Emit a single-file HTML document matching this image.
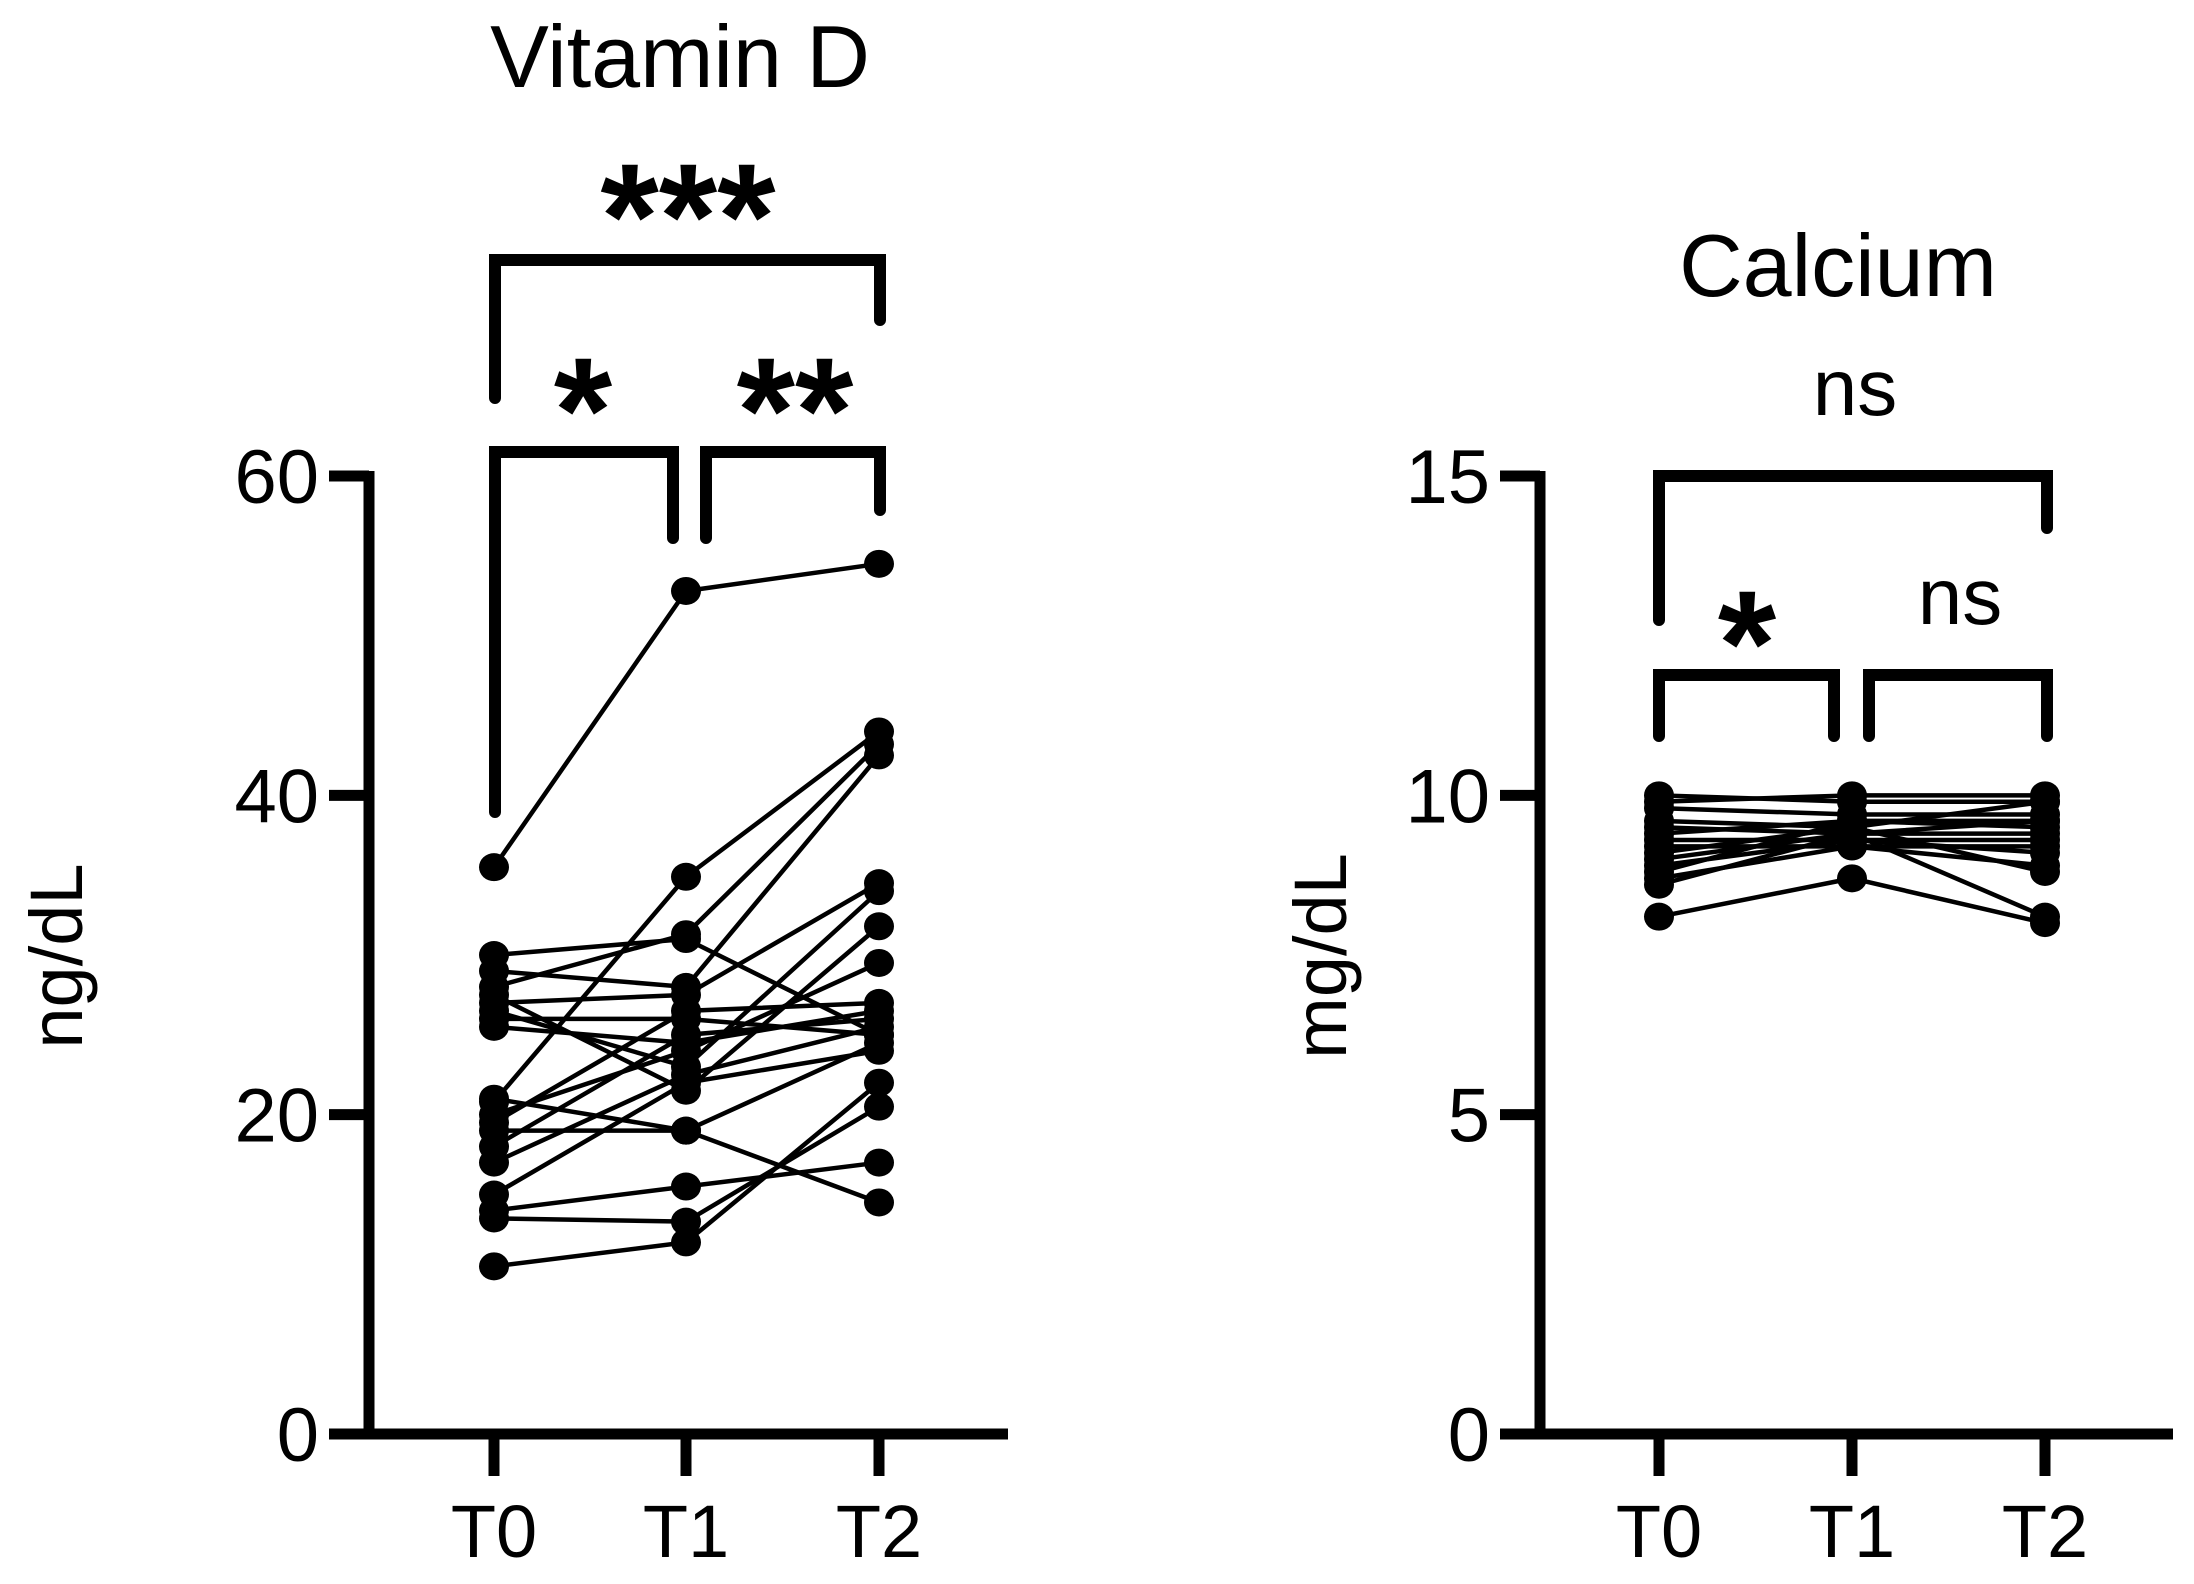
<!DOCTYPE html>
<html><head><meta charset="utf-8"><style>
html,body{margin:0;padding:0;background:#fff;}
svg{display:block;font-family:"Liberation Sans",Arial,sans-serif;}
</style></head><body>
<svg id="chart" width="2194" height="1584" viewBox="0 0 2194 1584"></svg>
<script>
const categories = ["T0","T1","T2"];
const vitdT0 = [35.5,20.8,28,30,29,27,26.5,25.5,27.5,19.5,18,17,21,20,15,14,13.5,10.5,19,26];
const vitdT1 = [52.8,34.9,31.3,31,28,27.5,23,24.5,21.5,26.5,25,22.5,19,24,22,15.5,13.3,12,19,26];
const vitdT2 = [54.5,44.0,43.2,25,42.5,34.5,34,26.5,31.8,27,26,25.5,14.5,29.5,24,17,20.5,22,24.5,25];
const vitdTicks = [0,20,40,60];
const caT0 = [10.0,9.9,9.8,9.6,9.5,9.4,9.3,9.2,9.1,9.0,8.9,8.8,8.7,8.6,8.1];
const caT1 = [9.9,10.0,9.7,9.5,9.4,9.6,9.3,9.2,9.5,9.4,9.3,9.6,9.2,9.4,8.7];
const caT2 = [9.9,10.0,9.7,9.9,9.6,9.5,9.3,9.2,8.8,9.4,9.1,9.6,8.9,8.1,8.0];
const caTicks = [0,5,10,15];

const NS="http://www.w3.org/2000/svg";
const svg=document.getElementById('chart');
function mk(tag,attrs,parent){const e=document.createElementNS(NS,tag);for(const k in attrs)e.setAttribute(k,attrs[k]);(parent||svg).appendChild(e);return e;}
function txt(s,attrs,parent){const e=mk('text',attrs,parent);e.textContent=s;return e;}

function panel(cfg){
  const g=mk('g',{});
  
  
  const y=v=>cfg.y0-(v-cfg.min)/(cfg.max-cfg.min)*(cfg.y0-cfg.y1);
  const x=i=>cfg.xs[i];
  const ya=mk('line',{x1:cfg.ax,y1:y(cfg.max)-5,x2:cfg.ax,y2:cfg.y0+5,stroke:'#000','stroke-width':11},g);
  
  const xa=mk('line',{x1:cfg.ax-40,y1:cfg.y0,x2:cfg.axEnd,y2:cfg.y0,stroke:'#000','stroke-width':11},g);
  
  cfg.ticks.forEach(t=>{
    const l=mk('line',{x1:cfg.ax-40,y1:y(t),x2:cfg.ax,y2:y(t),stroke:'#000','stroke-width':11},g);
    
    const tl=txt(String(t),{x:cfg.ax-50,y:y(t)+27,'font-size':76,'text-anchor':'end'},g);
    
  });
  categories.forEach((c,i)=>{
    const l=mk('line',{x1:x(i),y1:cfg.y0,x2:x(i),y2:cfg.y0+42,stroke:'#000','stroke-width':11},g);
    
    const tl=txt(c,{x:x(i),y:1557,'font-size':74,'text-anchor':'middle'},g);
    
  });
  const yl=txt(cfg.ylabel,{x:0,y:0,'font-size':74,'text-anchor':'middle',transform:`translate(${cfg.ylx},956) rotate(-90)`},g);
  
  const tt=txt(cfg.title,{x:cfg.tx,y:cfg.ty,'font-size':88,'text-anchor':'middle'},g);
  
  const s=[cfg.a,cfg.b,cfg.c];
  for(let k=0;k<cfg.a.length;k++){
    const pl=mk('polyline',{points:s.map((arr,i)=>x(i)+','+y(arr[k])).join(' '),fill:'none',stroke:'#000','stroke-width':4.5},g);
    
  }
  for(let k=0;k<cfg.a.length;k++){
    s.forEach((arr,i)=>{
      const c=mk('ellipse',{cx:x(i),cy:y(arr[k]),rx:15,ry:14,fill:'#000'},g);
      
    });
  }
  cfg.brackets.forEach(b=>{
    const p=mk('path',{d:`M${b.x1},${b.ly} L${b.x1},${b.y} L${b.x2},${b.y} L${b.x2},${b.ry}`,fill:'none',stroke:'#000','stroke-width':12,'stroke-linecap':'round','stroke-linejoin':'miter'},g);
    
    const bold=b.label.indexOf('*')>=0;
    const lt=txt(b.label,{x:b.lx,y:b.lyT,'font-size':bold?150:80,'font-weight':bold?'900':'normal','text-anchor':'middle'},g);
    
  });
}

panel({name:'vitamin-d-panel',title:'Vitamin D',tx:680,ty:87,ylabel:'ng/dL',ylx:82,
  ax:369,axEnd:1008,y0:1434,y1:476,min:0,max:60,ticks:vitdTicks,xs:[494,686,879],
  a:vitdT0,b:vitdT1,c:vitdT2,
  brackets:[
    {x1:495,x2:880,y:260,ly:398,ry:320,label:'***',lx:688,lyT:268},
    {x1:495,x2:673,y:452,ly:812,ry:538,label:'*',lx:583,lyT:462},
    {x1:706,x2:880,y:452,ly:538,ry:510,label:'**',lx:795,lyT:462}
  ]});
panel({name:'calcium-panel',title:'Calcium',tx:1838,ty:296,ylabel:'mg/dL',ylx:1346,
  ax:1540,axEnd:2173,y0:1434,y1:476,min:0,max:15,ticks:caTicks,xs:[1659,1852,2045],
  a:caT0,b:caT1,c:caT2,
  brackets:[
    {x1:1659,x2:2047,y:476,ly:620,ry:528,label:'ns',lx:1855,lyT:415},
    {x1:1659,x2:1834,y:675,ly:736,ry:736,label:'*',lx:1747,lyT:695},
    {x1:1869,x2:2047,y:675,ly:736,ry:736,label:'ns',lx:1960,lyT:624}
  ]});
</script>
</body></html>
